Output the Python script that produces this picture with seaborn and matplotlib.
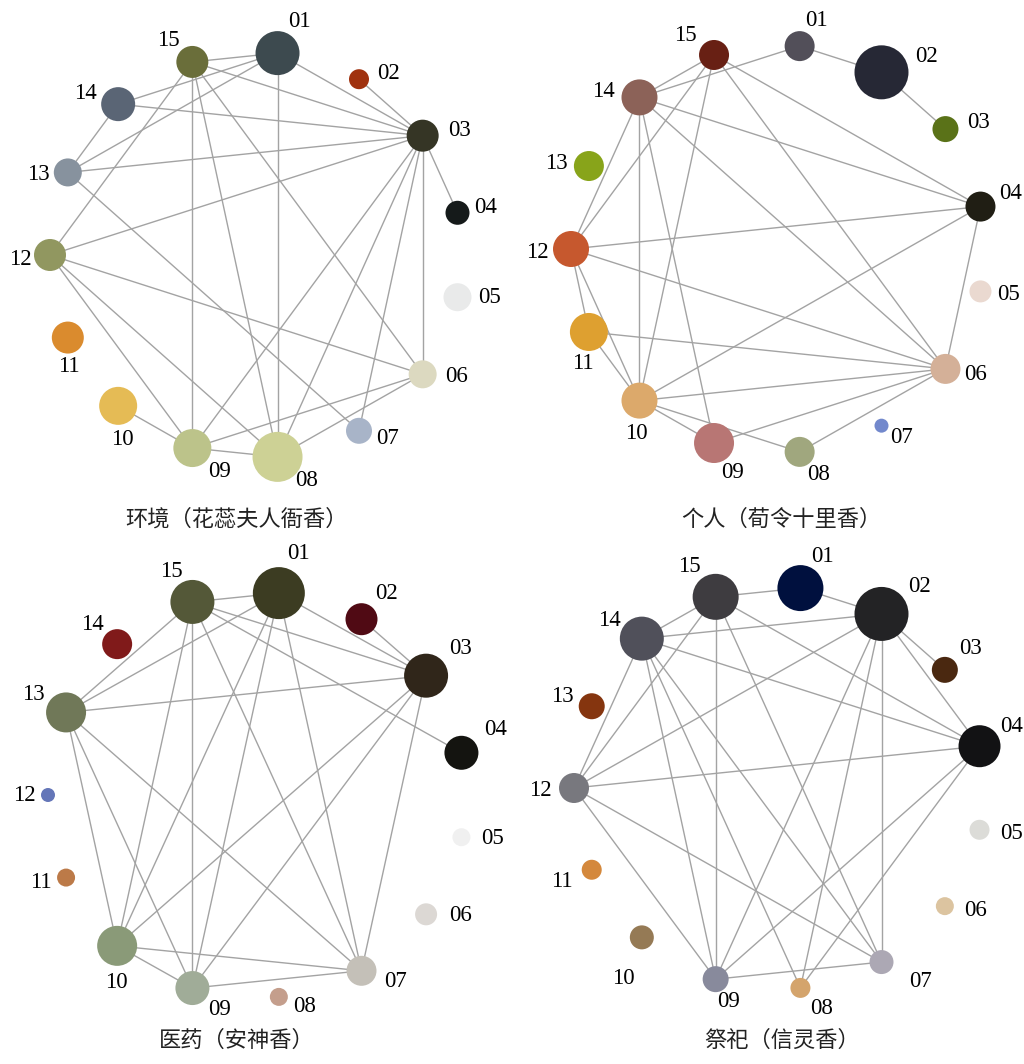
import numpy as np
import pandas as pd
import matplotlib
matplotlib.use("Agg")
import matplotlib.pyplot as plt
import seaborn as sns

sns.set_theme(style="white")
plt.rcParams['font.family'] = ['Liberation Serif', 'DejaVu Serif']

# ---------------- data ----------------
node_ids = ["01", "02", "03", "04", "05", "06", "07", "08",
            "09", "10", "11", "12", "13", "14", "15"]

titles = ["环境（花蕊夫人衙香）", "个人（荀令十里香）",
          "医药（安神香）", "祭祀（信灵香）"]

# node weight (drawn as marker radius in pixels)
env_weight = [22, 10, 16, 12, 14, 14, 13, 25, 19, 19, 16, 16, 14, 17, 16]
per_weight = [15, 27, 13, 15, 11, 15, 7, 15, 20, 18, 19, 18, 15, 18, 15]
med_weight = [26, 16, 22, 17, 9, 11, 15, 9, 17, 20, 9, 7, 20, 15, 22]
rit_weight = [23, 27, 13, 21, 10, 9, 12, 10, 13, 12, 10, 15, 13, 22, 23]

env_colors = ["#3d4a4f", "#a0320f", "#353525", "#151a1a", "#e9eaea",
              "#dcd9c0", "#a8b4c8", "#cdd195", "#bcc38a", "#e5bb55",
              "#da8b2e", "#919760", "#87929e", "#5a6575", "#6a6e3a"]
per_colors = ["#524f59", "#262835", "#5a7218", "#201e14", "#ead9d0",
              "#d4b098", "#7288cc", "#a0a77e", "#b87674", "#dca96b",
              "#dea030", "#c6582e", "#88a41a", "#8c6258", "#682014"]
med_colors = ["#3c3c22", "#500a14", "#30261a", "#141410", "#f0f0f0",
              "#dcd8d4", "#c4c0b8", "#c49e8c", "#a0ac98", "#8a9a78",
              "#bc7a48", "#6476b8", "#707858", "#801a1a", "#545838"]
rit_colors = ["#00103e", "#232325", "#4a2810", "#121214", "#dcdcd8",
              "#dcc4a0", "#aca8b4", "#d4a46c", "#888a9c", "#957a55",
              "#d4883c", "#78787e", "#85350f", "#50505a", "#3e3c40"]

env_edges = [("15", "01"), ("15", "03"), ("15", "06"), ("15", "08"), ("15", "09"),
             ("15", "12"), ("14", "01"), ("14", "03"), ("14", "13"), ("13", "01"),
             ("13", "03"), ("13", "07"), ("12", "03"), ("12", "06"), ("12", "08"),
             ("12", "09"), ("01", "03"), ("01", "08"), ("02", "03"), ("03", "04"),
             ("03", "06"), ("03", "07"), ("03", "08"), ("03", "09"), ("10", "09"),
             ("09", "08"), ("09", "06"), ("08", "06")]
per_edges = [("01", "02"), ("01", "14"), ("02", "03"), ("15", "14"), ("15", "04"),
             ("15", "06"), ("15", "12"), ("15", "10"), ("14", "04"), ("14", "06"),
             ("14", "12"), ("14", "10"), ("14", "09"), ("12", "04"), ("12", "06"),
             ("12", "11"), ("12", "10"), ("11", "06"), ("11", "10"), ("10", "04"),
             ("10", "06"), ("10", "09"), ("10", "08"), ("09", "06"), ("08", "06"),
             ("04", "06")]
med_edges = [("15", "01"), ("15", "03"), ("15", "04"), ("15", "13"), ("15", "10"),
             ("15", "09"), ("15", "07"), ("01", "03"), ("01", "13"), ("01", "10"),
             ("01", "09"), ("01", "07"), ("02", "03"), ("03", "13"), ("03", "10"),
             ("03", "09"), ("03", "07"), ("13", "10"), ("13", "09"), ("13", "07"),
             ("10", "09"), ("10", "07"), ("09", "07")]
rit_edges = [("15", "01"), ("15", "14"), ("15", "04"), ("15", "12"), ("15", "09"),
             ("15", "07"), ("01", "02"), ("02", "14"), ("02", "03"), ("02", "04"),
             ("02", "12"), ("02", "09"), ("02", "08"), ("02", "07"), ("14", "04"),
             ("14", "12"), ("14", "09"), ("14", "08"), ("14", "07"), ("12", "04"),
             ("12", "09"), ("12", "07"), ("04", "09"), ("04", "08"), ("09", "07")]

# ---------------- layout ----------------
W, H, DPI = 1024, 1064, 100
START_ANGLE = 6.0            # degrees clockwise from 12 o'clock
STEP = 360.0 / len(node_ids)

# circle centre / radii in pixels for each panel
panel_geom = [(256, 255, 206, 203), (778, 249, 207, 204),
              (257, 795, 209, 203), (779, 788, 205, 201)]
title_pos = [(236, 519), (781, 519), (237, 1040), (782, 1040)]

# label placement: pixel offset (right, down) of each label from its node
env_label_off = [(22, -32), (30, -6), (37, -5), (28, -5), (32, 0), (34, 2),
                 (29, 8), (29, 24), (27, 23), (4, 34), (1, 29), (-30, 4),
                 (-29, 2), (-33, -11), (-24, -21)]
per_label_off = [(17, -26), (45, -16), (33, -7), (30, -13), (28, 3), (30, 6),
                 (20, 12), (19, 23), (19, 29), (-3, 33), (-6, 32), (-34, 3),
                 (-33, -3), (-36, -6), (-29, -19)]
med_label_off = [(20, -40), (25, -26), (34, -27), (34, -23), (31, 1), (34, 1),
                 (34, 11), (26, 10), (27, 21), (-1, 37), (-25, 5), (-24, 0),
                 (-33, -18), (-25, -20), (-21, -30)]
rit_label_off = [(22, -32), (38, -27), (26, -21), (32, -20), (32, 4), (31, 4),
                 (39, 19), (21, 21), (13, 22), (-18, 41), (-30, 12), (-34, 2),
                 (-29, -10), (-32, -18), (-26, -30)]

panels = [(env_weight, env_colors, env_edges, env_label_off),
          (per_weight, per_colors, per_edges, per_label_off),
          (med_weight, med_colors, med_edges, med_label_off),
          (rit_weight, rit_colors, rit_edges, rit_label_off)]

EDGE_COLOR = "#a3a3a3"
LIM = 1.3
PT = 72 / DPI

fig = plt.figure(figsize=(W / DPI, H / DPI), dpi=DPI)
fig.patch.set_facecolor("white")

angles = np.deg2rad(START_ANGLE + STEP * np.arange(len(node_ids)))

for (weights, colors, edges, label_off), (cx, cy, rx, ry), (tx, ty), title in zip(
        panels, panel_geom, title_pos, titles):
    ax = fig.add_axes([(cx - LIM * rx) / W, 1 - (cy + LIM * ry) / H,
                       2 * LIM * rx / W, 2 * LIM * ry / H])
    ax.set_xlim(-LIM, LIM)
    ax.set_ylim(-LIM, LIM)
    ax.axis("off")

    df = pd.DataFrame({"id": node_ids, "x": np.sin(angles), "y": np.cos(angles),
                       "w": weights})
    pos = df.set_index("id")[["x", "y"]]

    for a, b in edges:
        ax.plot([pos.loc[a, "x"], pos.loc[b, "x"]],
                [pos.loc[a, "y"], pos.loc[b, "y"]],
                color=EDGE_COLOR, lw=1.0, zorder=1, solid_capstyle="butt")

    # marker area in points^2 from radius in pixels
    areas = {nid: (2 * w * PT) ** 2 for nid, w in zip(node_ids, weights)}
    sns.scatterplot(data=df, x="x", y="y", hue="id", size="id",
                    palette=dict(zip(node_ids, colors)), sizes=areas,
                    legend=False, linewidth=0, alpha=1, ax=ax, zorder=3,
                    clip_on=False)

    for k, nid in enumerate(node_ids):
        dx, dy = label_off[k]
        ax.annotate(nid, xy=(pos.loc[nid, "x"], pos.loc[nid, "y"]),
                    xytext=(dx * PT, -dy * PT), textcoords="offset points",
                    ha="center", va="center", fontsize=16.5, color="black",
                    zorder=4, annotation_clip=False)

    fig.text(tx / W, 1 - ty / H, title, ha="center", va="center",
             fontsize=16, color="#222222",
             family=["Noto Sans CJK SC", "DejaVu Sans"])

fig.savefig("out.png", dpi=DPI, facecolor="white")
